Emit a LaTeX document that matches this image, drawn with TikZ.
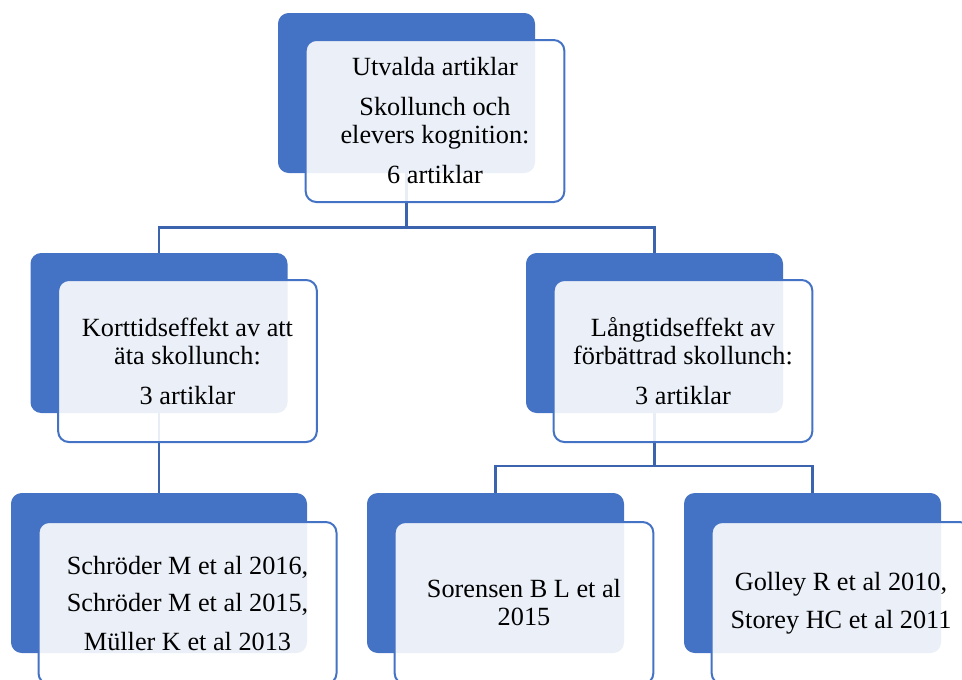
\documentclass[tikz,border=0pt]{standalone}
\usepackage{fontspec}
\setmainfont{Liberation Serif}
\usetikzlibrary{backgrounds}

\definecolor{boxblue}{HTML}{4472C4}
\definecolor{linkblue}{HTML}{3B63AE}

\begin{document}
\begin{tikzpicture}[x=0.75pt, y=-0.75pt,
        back/.style={fill=boxblue, rounded corners=8pt, inner sep=0pt,
            minimum width=192.75pt, minimum height=120pt},
        front/.style={draw=boxblue, line width=1.5pt, fill=white, fill opacity=0.89,
            text opacity=1, rounded corners=8pt, inner sep=0pt, align=center,
            minimum width=194pt, minimum height=121.5pt,
            font=\fontsize{19.7}{21}\selectfont},
        link/.style={draw=linkblue, line width=2pt}]

        \useasboundingbox (0,0) rectangle (962,679);

        % level 1

        \node [back] (top-b) at (406.5,93) {};

        % level 2

        \node [back] (kort-b) at (159,333) {};
        \node [back] (lang-b) at (654.5,333) {};

        % level 3

        \node [back, minimum width=222pt] (ref1-b) at (159,573) {};
        \node [back] (ref2-b) at (495.5,573) {};
        \node [back] (ref3-b) at (812.5,573) {};

        \coordinate (fork1) at (406.5,227.5);
        \coordinate (fork2) at (654.5,466);

        \begin{scope}[on background layer]
            \draw [link] (top-b.south) -- (fork1) -| (kort-b.north);
            \draw [link] (fork1) -| (lang-b.north);
            \draw [link] (kort-b.south) -- (ref1-b.north);
            \draw [link] (lang-b.south) -- (fork2) -| (ref2-b.north);
            \draw [link] (fork2) -| (ref3-b.north);
        \end{scope}

        \node [front] (top) at (435,121)
            {Utvalda artiklar\\[9pt] Skollunch och\\ elevers kognition:\\[9pt] 6 artiklar};

        \node [front] (kort) at (187.5,361)
            {Korttidseffekt av att\\ äta skollunch:\\[9pt] 3 artiklar};
        \node [front] (lang) at (683,361)
            {Långtidseffekt av\\ förbättrad skollunch:\\[9pt] 3 artiklar};

        \node [front, minimum width=223.5pt] (ref1) at (187.5,603)
            {Schröder M et al 2016,\\[7.5pt] Schröder M et al 2015,\\[7.5pt] Müller K et al 2013};
        \node [front] (ref2) at (524,603)
            {Sorensen B L et al\\ 2015};
        \node [front] (ref3) at (841,603)
            {Golley R et al 2010,\\[7.5pt] Storey HC et al 2011};

    \end{tikzpicture}
\end{document}
